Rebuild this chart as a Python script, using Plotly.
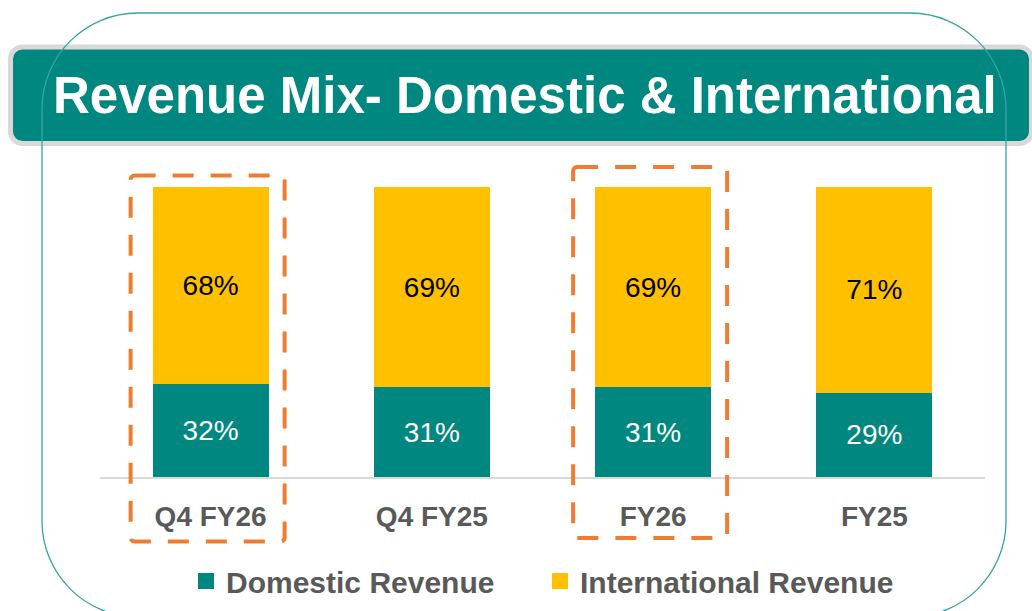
import plotly.graph_objects as go

# data
periods = ['Q4 FY26', 'Q4 FY25', 'FY26', 'FY25']
domestic = [32, 31, 31, 29]
international = [68, 69, 69, 71]
highlighted = ['Q4 FY26', 'FY26']

_TEAL = '#00877F'
_YELLOW = '#FFC000'
_ORANGE = '#ED7D31'
_GREY_TXT = '#595959'
_FONT = 'Liberation Sans, Arial, sans-serif'

# plot area in pixels (figure is 1032 x 611)
W, H = 1032, 611
L, R, T, B = 100, 47, 187, 134
PW, PH = W - L - R, H - T - B


def px(x):
    return (x - L) / PW


def py(y):
    return (H - B - y) / PH


def rounded_path(x0, y0, x1, y1, r):
    k = 0.5523 * r
    pts = [
        f'M{px(x0 + r)},{py(y0)}',
        f'L{px(x1 - r)},{py(y0)}',
        f'C{px(x1 - r + k)},{py(y0)} {px(x1)},{py(y0 + r - k)} {px(x1)},{py(y0 + r)}',
        f'L{px(x1)},{py(y1 - r)}',
        f'C{px(x1)},{py(y1 - r + k)} {px(x1 - r + k)},{py(y1)} {px(x1 - r)},{py(y1)}',
        f'L{px(x0 + r)},{py(y1)}',
        f'C{px(x0 + r - k)},{py(y1)} {px(x0)},{py(y1 - r + k)} {px(x0)},{py(y1 - r)}',
        f'L{px(x0)},{py(y0 + r)}',
        f'C{px(x0)},{py(y0 + r - k)} {px(x0 + r - k)},{py(y0)} {px(x0 + r)},{py(y0)}',
        'Z',
    ]
    return ' '.join(pts)


fig = go.Figure()

fig.add_trace(go.Bar(
    x=periods, y=domestic, name='Domestic Revenue',
    marker=dict(color=_TEAL, line=dict(width=0)),
    text=[f'{v}%' for v in domestic], textposition='inside', insidetextanchor='middle',
    textfont=dict(color='white', size=28, family=_FONT),
    showlegend=False,
))
fig.add_trace(go.Bar(
    x=periods, y=international, name='International Revenue',
    marker=dict(color=_YELLOW, line=dict(width=0)),
    text=[f'{v}%' for v in international], textposition='inside', insidetextanchor='middle',
    textfont=dict(color='black', size=28, family=_FONT),
    showlegend=False,
))

# legend entries (bigger square symbols than the bar default)
for name, col in [('Domestic Revenue', _TEAL), ('International Revenue', _YELLOW)]:
    fig.add_trace(go.Scatter(
        x=[None], y=[None], mode='markers', name=name,
        marker=dict(symbol='square', size=16, color=col),
    ))

shapes = [
    # title banner
    dict(type='path', path=rounded_path(10.5, 47, 1031.5, 143.5, 12),
         xref='paper', yref='paper', fillcolor=_TEAL,
         line=dict(color='#D9D9D9', width=5), layer='below'),
    # outer rounded frame
    dict(type='path', path=rounded_path(42, 13, 1006, 617, 96),
         xref='paper', yref='paper', line=dict(color='#37A3A8', width=1.3), layer='above'),
]

# dashed highlight boxes around selected periods (paper coords so they are not clipped)
n = len(periods)
slot = PW / n
box_top_px = {'Q4 FY26': 175.5, 'FY26': 167}
box_bot_px = {'Q4 FY26': 541.5, 'FY26': 538}
for p in highlighted:
    i = periods.index(p)
    cx = L + (i + 0.5) * slot
    shapes.append(dict(
        type='path', xref='paper', yref='paper',
        path=rounded_path(cx - 80, box_top_px[p], cx + 74, box_bot_px[p], 4),
        line=dict(color=_ORANGE, width=4, dash='21px,17px'), layer='above',
    ))

fig.update_layout(
    width=W, height=H,
    margin=dict(l=L, r=R, t=T, b=B, autoexpand=False),
    paper_bgcolor='white', plot_bgcolor='rgba(0,0,0,0)',
    barmode='stack', bargap=0.476,
    shapes=shapes,
    annotations=[dict(
        text='<b>Revenue Mix- Domestic & International</b>',
        xref='paper', yref='paper', x=px(525), y=py(95),
        xanchor='center', yanchor='middle', showarrow=False,
        font=dict(color='white', size=51, family=_FONT),
    )],
    xaxis=dict(
        showgrid=False, zeroline=False, showline=True, linecolor='#D9D9D9', linewidth=2,
        tickfont=dict(color=_GREY_TXT, size=28, family=_FONT), ticklabelstandoff=13,
        tickprefix='<b>', ticksuffix='</b>', automargin=False,
    ),
    yaxis=dict(range=[0, 100], visible=False),
    legend=dict(
        orientation='h', x=px(186), y=py(581), xanchor='left', yanchor='middle',
        font=dict(color=_GREY_TXT, size=30, family=_FONT, weight='bold'),
        entrywidth=309, bgcolor='rgba(0,0,0,0)', borderwidth=0,
        traceorder='normal', itemclick=False,
    ),
    font=dict(family=_FONT),
)

fig.write_html('out.html', config={'displayModeBar': False},
               post_script="document.body.style.margin='0';")
